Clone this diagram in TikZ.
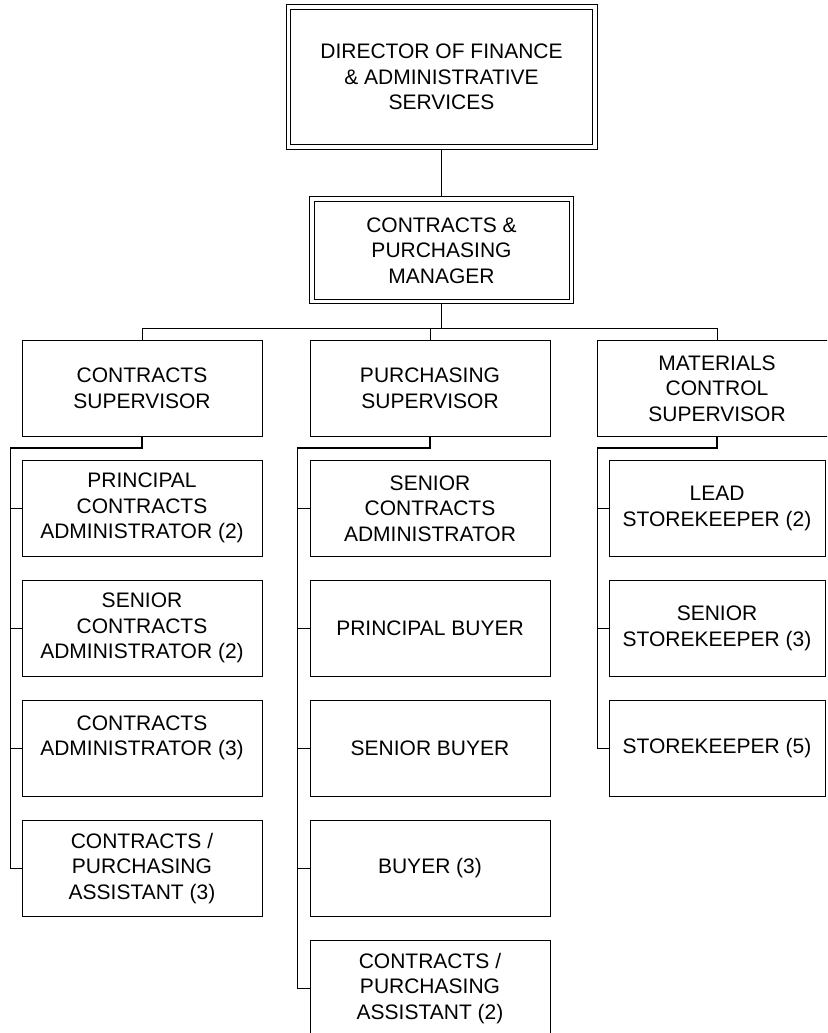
\documentclass[tikz,border=0pt]{standalone}
\usepackage{fontspec}
\setmainfont{Liberation Sans}
\begin{document}
\begin{tikzpicture}[x=1pt,y=-1pt,
  every node/.style={font=\fontsize{21}{25.5}\selectfont, align=center, inner sep=0pt},
  card/.style={draw, line width=1pt, minimum width=240pt, minimum height=95.5pt},
  smallcard/.style={card, minimum width=216pt},
  headcard/.style={draw, line width=1pt, double, double distance=3.5pt, outer sep=2.75pt},
  link/.style={line width=1pt},
  trunk/.style={line width=1.8pt},
]
\useasboundingbox (0,0) rectangle (827,1033);
\clip (0,0) rectangle (827,1033);

% top of the chart
\node[headcard, minimum width=306.5pt, minimum height=139.5pt] (dir) at (441.5,77)
  {DIRECTOR OF FINANCE\\\& ADMINISTRATIVE\\SERVICES};
\node[headcard, minimum width=259.5pt, minimum height=102.5pt] (mgr) at (441.5,250.3)
  {CONTRACTS \&\\PURCHASING\\MANAGER};

% supervisors
\node[card] (cs) at (142,388.4) {CONTRACTS\\SUPERVISOR};
\node[card] (ps) at (430,388.4) {PURCHASING\\SUPERVISOR};
\node[card] (ms) at (717,388.4) {MATERIALS\\CONTROL\\SUPERVISOR};

% contracts staff
\node[card] (c1) at (142,508.3) {PRINCIPAL\\CONTRACTS\\ADMINISTRATOR (2)};
\node[card] (c2) at (142,628.3) {SENIOR\\CONTRACTS\\ADMINISTRATOR (2)};
\node[card] (c3) at (142,748.3) {CONTRACTS\\ADMINISTRATOR (3)\\\mbox{}};
\node[card] (c4) at (142,868.3) {CONTRACTS /\\PURCHASING\\ASSISTANT (3)};

% purchasing staff
\node[card] (p1) at (430,508.3) {SENIOR\\CONTRACTS\\ADMINISTRATOR};
\node[card] (p2) at (430,628.3) {PRINCIPAL BUYER};
\node[card] (p3) at (430,748.3) {SENIOR BUYER};
\node[card] (p4) at (430,868.3) {BUYER (3)};
\node[card] (p5) at (430,988.3) {CONTRACTS /\\PURCHASING\\ASSISTANT (2)};

% materials staff
\node[smallcard] (m1) at (717,508.3) {LEAD\\STOREKEEPER (2)};
\node[smallcard] (m2) at (717,628.3) {SENIOR\\STOREKEEPER (3)};
\node[smallcard] (m3) at (717,748.3) {STOREKEEPER (5)};

% reporting lines
\draw[link] (dir.south) -- (mgr.north);
\coordinate (bus) at (441.5,328.3);
\draw[trunk] (mgr.south) -- (bus);
\draw[link] (cs.north) |- (bus) -| (ms.north);
\draw[link] (ps.north) -- (ps.north |- bus);

% contracts column
\coordinate (cspine) at (10,448.3);
\draw[trunk] (cs.south) |- (cspine);
\draw[link] (cspine) |- (c4.west);
\foreach \n in {c1,c2,c3} \draw[link] (\n.west) -- (\n.west -| cspine);

% purchasing column
\coordinate (pspine) at (297.3,448.3);
\draw[trunk] (ps.south) |- (pspine);
\draw[link] (pspine) |- (p5.west);
\foreach \n in {p1,p2,p3,p4} \draw[link] (\n.west) -- (\n.west -| pspine);

% materials column
\coordinate (mspine) at (597.3,448.3);
\draw[trunk] (ms.south) |- (mspine);
\draw[link] (mspine) |- (m3.west);
\foreach \n in {m1,m2} \draw[link] (\n.west) -- (\n.west -| mspine);
\end{tikzpicture}
\end{document}
